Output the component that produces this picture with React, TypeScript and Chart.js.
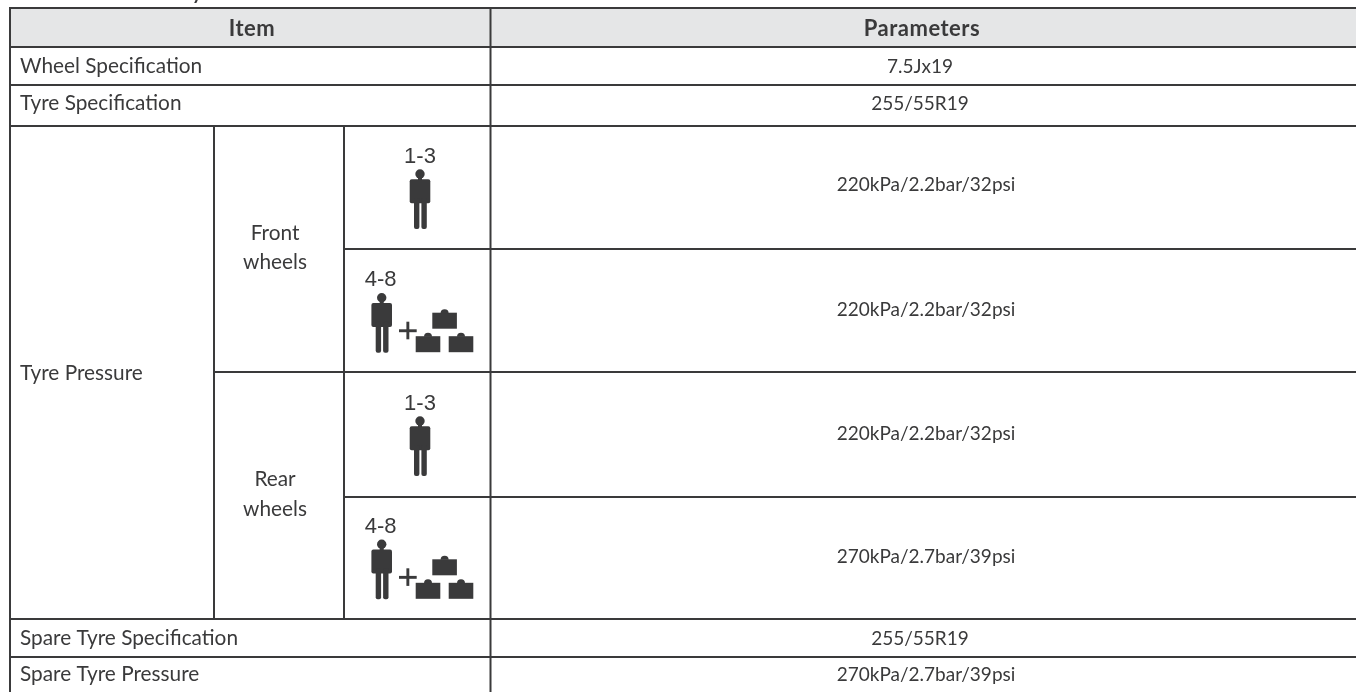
import React, { useEffect, useRef } from "react";
import { Chart, registerables } from "chart.js";

Chart.register(...registerables);

const WIDTH = 1356;
const HEIGHT = 692;
const INK = "#3a3a3b";
const HEADER_FILL = "#e5e6e7";
const FONT = "Lato";
const DIGIT_FONT = '"Liberation Sans"';

// table content
const headers = ["Item", "Parameters"];
const itemLabels = ["Wheel Specification", "Tyre Specification", "Tyre Pressure", "Spare Tyre Specification", "Spare Tyre Pressure"];
const wheelGroups = [["Front", "wheels"], ["Rear", "wheels"]];
const occupancy = ["1-3", "4-8", "1-3", "4-8"];
const parameterValues = [
  "7.5Jx19",
  "255/55R19",
  "220kPa/2.2bar/32psi",
  "220kPa/2.2bar/32psi",
  "220kPa/2.2bar/32psi",
  "270kPa/2.7bar/39psi",
  "255/55R19",
  "270kPa/2.7bar/39psi",
];

// table frame on the chart's x and y scales (the table runs past the right and bottom of the page)
const colEdges = [10, 214, 344, 490.5, 1360];
const rowEdges = [8, 47, 85, 126, 249, 372, 497, 619, 657, 696];

// text rows on the y scale
const headerRow = 28.5;
const itemRows = [66, 103, 373, 638, 674];
const valueRows = [66.5, 103.5, 185, 310, 434, 557, 638.5, 674.5];
const valueCentres = [920, 920, 926, 926, 926, 926, 920, 926];
const groupRows = [[233, 262], [479.5, 509]];
const parameterCentre = 922;
const itemCentre = 252;
const groupCentre = 275;

const frameSegments = [
  // horizontals
  [colEdges[0], colEdges[4], rowEdges[0], rowEdges[0]],
  [colEdges[0], colEdges[4], rowEdges[1], rowEdges[1]],
  [colEdges[0], colEdges[4], rowEdges[2], rowEdges[2]],
  [colEdges[0], colEdges[4], rowEdges[3], rowEdges[3]],
  [colEdges[2], colEdges[4], rowEdges[4], rowEdges[4]],
  [colEdges[1], colEdges[4], rowEdges[5], rowEdges[5]],
  [colEdges[2], colEdges[4], rowEdges[6], rowEdges[6]],
  [colEdges[0], colEdges[4], rowEdges[7], rowEdges[7]],
  [colEdges[0], colEdges[4], rowEdges[8], rowEdges[8]],
  // verticals
  [colEdges[0], colEdges[0], rowEdges[0], rowEdges[9]],
  [colEdges[1], colEdges[1], rowEdges[3], rowEdges[7]],
  [colEdges[2], colEdges[2], rowEdges[3], rowEdges[7]],
  [colEdges[3], colEdges[3], rowEdges[0], rowEdges[9]],
];

type Sx = (v: number) => number;

function drawPerson(ctx: CanvasRenderingContext2D, hx: number, hy: number) {
  ctx.beginPath();
  ctx.arc(hx, hy, 4.7, 0, Math.PI * 2);
  ctx.fill();
  ctx.fillRect(hx - 2, hy + 2, 4, 5);
  ctx.beginPath();
  ctx.roundRect(hx - 10.3, hy + 5.3, 20.6, 24, 2);
  ctx.fill();
  ctx.beginPath();
  ctx.roundRect(hx - 6, hy + 24, 5.4, 31, 2);
  ctx.fill();
  ctx.beginPath();
  ctx.roundRect(hx + 1.4, hy + 24, 5.4, 31, 2);
  ctx.fill();
}

function drawBox(ctx: CanvasRenderingContext2D, x: number, y: number) {
  ctx.fillRect(x, y, 24.6, 16);
  ctx.beginPath();
  ctx.arc(x + 12.3, y + 0.5, 4, Math.PI, 0);
  ctx.fill();
}

function drawLoad(ctx: CanvasRenderingContext2D, hx: number, hy: number) {
  ctx.fillRect(hx + 17.3, hy + 31.6, 17.7, 2.9);
  ctx.fillRect(hx + 24.7, hy + 24, 2.9, 17.6);
  drawBox(ctx, hx + 50.6, hy + 15);
  drawBox(ctx, hx + 34, hy + 38.5);
  drawBox(ctx, hx + 67, hy + 38.5);
}

const tablePlugin = {
  id: "tablePlugin",
  beforeDatasetsDraw(chart: any) {
    const { ctx, scales } = chart;
    const X: Sx = (v) => scales.x.getPixelForValue(v);
    const Y: Sx = (v) => scales.y.getPixelForValue(v);
    ctx.save();
    ctx.fillStyle = HEADER_FILL;
    ctx.fillRect(X(colEdges[0]), Y(rowEdges[0]), X(colEdges[4]) - X(colEdges[0]), Y(rowEdges[1]) - Y(rowEdges[0]));
    ctx.restore();
  },
  afterDatasetsDraw(chart: any) {
    const { ctx, scales } = chart;
    const X: Sx = (v) => scales.x.getPixelForValue(v);
    const Y: Sx = (v) => scales.y.getPixelForValue(v);
    ctx.save();
    ctx.fillStyle = INK;
    ctx.textBaseline = "middle";

    // clipped heading descender above the table
    ctx.textAlign = "left";
    ctx.font = `bold 19px ${FONT}`;
    ctx.fillText("y", X(192), Y(-6));

    // header
    ctx.textAlign = "center";
    ctx.font = `bold 22px ${FONT}`;
    ctx.letterSpacing = "0.5px";
    ctx.fillText(headers[0], X(itemCentre), Y(headerRow));
    ctx.fillText(headers[1], X(parameterCentre), Y(headerRow));
    ctx.letterSpacing = "0px";

    // items
    ctx.font = `20.8px ${FONT}`;
    ctx.textAlign = "left";
    itemLabels.forEach((t, i) => ctx.fillText(t, X(colEdges[0] + 10), Y(itemRows[i])));

    // front / rear
    ctx.textAlign = "center";
    wheelGroups.forEach((lines, i) => {
      lines.forEach((line, j) => ctx.fillText(line, X(groupCentre), Y(groupRows[i][j])));
    });

    // parameter values
    ctx.font = `19px ${FONT}`;
    parameterValues.forEach((t, i) => ctx.fillText(t, X(valueCentres[i]), Y(valueRows[i])));

    // occupancy icons: head centres in each icon cell
    const heads = [
      [420, 174],
      [381.7, 297.7],
      [420, 421],
      [381.7, 544.3],
    ];
    heads.forEach(([hx, hy], i) => {
      const px = X(hx);
      const py = Y(hy);
      drawPerson(ctx, px, py);
      ctx.font = `22px ${DIGIT_FONT}`;
      ctx.textAlign = "center";
      ctx.textBaseline = "middle";
      ctx.fillText(occupancy[i], px - (i % 2 ? 1 : 0), py - 17.5);
      if (i % 2) drawLoad(ctx, px, py);
    });
    ctx.restore();
  },
};

export default function App() {
  const ref = useRef<HTMLCanvasElement | null>(null);
  useEffect(() => {
    if (!ref.current) return;
    const chart = new Chart(ref.current, {
      type: "scatter",
      data: {
        datasets: frameSegments.map(([x0, x1, y0, y1]) => ({
          type: "line" as const,
          data: [{ x: x0, y: y0 }, { x: x1, y: y1 }],
          borderColor: INK,
          borderWidth: 2,
          borderCapStyle: "square" as const,
          pointRadius: 0,
          tension: 0,
          fill: false,
          clip: false,
        })),
      },
      options: {
        animation: false,
        responsive: false,
        maintainAspectRatio: false,
        layout: { padding: 0 },
        events: [],
        plugins: { legend: { display: false }, tooltip: { enabled: false }, title: { display: false } },
        scales: {
          x: { type: "linear", display: false, min: 0, max: WIDTH },
          y: { type: "linear", display: false, min: 0, max: HEIGHT, reverse: true },
        },
      },
      plugins: [tablePlugin],
    } as any);
    return () => chart.destroy();
  }, []);
  return (
    <canvas
      ref={ref}
      width={WIDTH}
      height={HEIGHT}
      style={{ position: "fixed", left: 0, top: 0, display: "block", width: WIDTH, height: HEIGHT, background: "#fff" }}
    />
  );
}
